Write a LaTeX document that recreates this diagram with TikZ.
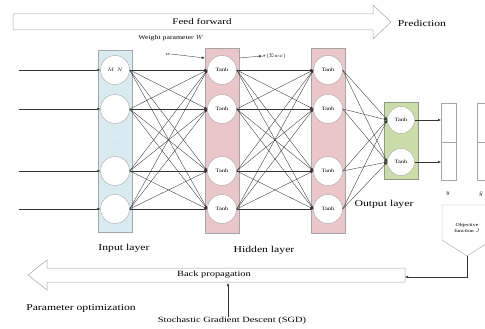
\documentclass[tikz,border=0pt]{standalone}
\usepackage{fontspec}
\setmainfont[FakeStretch=1.3]{Liberation Serif}
\usetikzlibrary{arrows.meta,positioning}

\definecolor{inblue}{RGB}{216,235,241}
\definecolor{hidpink}{RGB}{234,198,201}
\definecolor{outgreen}{RGB}{202,220,168}

\tikzset{
	neuron/.style={circle, draw=gray!70, fill=white, minimum size=29pt, inner sep=0pt, font=\fontsize{5}{6}\selectfont},
	layerbox/.style={draw=gray!70, minimum width=34pt, inner sep=0pt},
	link/.style={-{Latex[length=3pt,width=2.4pt]}, black!80, line width=0.35pt},
	bigarrow/.style={draw=gray!70, line width=0.5pt, fill=white},
	lbl/.style={inner sep=0pt, font=\fontsize{9}{10}\selectfont},
}

\begin{document}
\begin{tikzpicture}[x=1pt,y=-1pt]
	\useasboundingbox (0,0) rectangle (485,329);
	\clip (0,0) rectangle (485,329);
	% feed forward and back propagation
	\draw[bigarrow] (13,14) -- (373,14) -- (373,5) -- (391,22) -- (373,39) -- (373,30) -- (13,30) -- cycle;
	\node[lbl, font=\fontsize{8.5}{9}\selectfont] (ff) at (202,22) {Feed forward};
	\node[lbl] (pred) at (422,23) {Prediction};
	\draw[bigarrow] (405,268) -- (47,268) -- (47,260) -- (28,275) -- (47,290) -- (47,282) -- (405,282) -- cycle;
	\node[lbl, font=\fontsize{8}{9}\selectfont] (bp) at (214,275) {Back propagation};
	\coordinate (bpend) at (405,277);
	\coordinate (bpsgd) at (228,283);
	% layer boxes
	\node[layerbox, fill=inblue, minimum height=182pt] (inbox) at (115,141) {};
	\node[layerbox, fill=hidpink, minimum height=185pt] (hbox) at (222,141) {};
	\node[layerbox, fill=hidpink, minimum height=185pt] (gbox) at (328,141) {};
	\node[layerbox, fill=outgreen, draw=outgreen!50!black!70, minimum height=77pt] (obox) at (401,141) {};
	\node[inner sep=0pt, font=\fontsize{5}{6}\selectfont, text=gray] (dots) at (115,143) {$\cdots$};
	% neurons
	\foreach \n/\y/\t in {0/70/{$M$\enspace$N$},1/109/{},2/171/{},3/209/{}} {
		\node[neuron] (i\n) at (115,\y) {\t};
		\node[neuron] (h\n) at (222,\y) {Tanh};
		\node[neuron] (g\n) at (328,\y) {Tanh};
		\coordinate (x\n) at (19,\y);
		\draw[link] (x\n) -- (i\n.west);
	}
	\node[neuron, minimum size=27pt] (o0) at (401,120) {Tanh};
	\node[neuron, minimum size=27pt] (o1) at (401,162) {Tanh};
	% full connections
	\foreach \a in {0,...,3}
	\foreach \b in {0,...,3} {
		\draw[link] (i\a.east) -- (h\b.west);
		\draw[link] (h\a.east) -- (g\b.west);
	}
	\foreach \a in {0,...,3}
	\foreach \b in {0,1}
	\draw[link] (g\a.east) -- (o\b.west);
	% outputs
	\draw[draw=gray!70] (441,103) rectangle (456,180) (441,142) -- (456,142);
	\draw[draw=gray!70] (477,103) rectangle (492,180) (477,142) -- (492,142);
	\draw[link] (o0.east) -- (441,120);
	\draw[link] (o1.east) -- (441,162);
	\node[inner sep=0pt, font=\fontsize{6}{7}\selectfont] (ylab) at (448,194) {$y$};
	\node[inner sep=0pt, font=\fontsize{6}{7}\selectfont] (yhat) at (481,194) {$\hat{y}$};
	% objective function
	\draw[draw=gray!70, fill=white] (442,205) -- (492,205) -- (492,240) -- (467,256) -- (442,240) -- cycle;
	\node[inner sep=0pt, align=center, font=\fontsize{4.5}{5.5}\selectfont] (obj) at (467,228) {Objective\\function $J$};
	\coordinate (objtip) at (467,256);
	\draw[link] (objtip) -- (467,277) -- (bpend);
	% weights
	\node[inner sep=0pt, font=\fontsize{6}{7}\selectfont] (wp) at (171,38) {Weight parameter $W$};
	\node[inner sep=0pt, font=\fontsize{5}{6}\selectfont] (w) at (168,54) {$w$};
	\draw[link] (w.east) -- (hbox.west |- 0,58);
	\node[inner sep=0pt, font=\fontsize{5.5}{6}\selectfont] (act) at (274,56) {$\sigma(\Sigma wx)$};
	\draw[link] (hbox.east |- 0,58) -- (act.west);
	% labels
	\node[lbl] (inl) at (124,248) {Input layer};
	\node[lbl] (hidl) at (264,250) {Hidden layer};
	\node[lbl] (outl) at (384,204) {Output layer};
	\node[lbl] (popt) at (81,308) {Parameter optimization};
	\node[lbl, font=\fontsize{8}{9}\selectfont] (sgd) at (232,321) {Stochastic Gradient Descent (SGD)};
	\draw[link] (sgd.north -| bpsgd) -- (bpsgd);
\end{tikzpicture}
\end{document}
